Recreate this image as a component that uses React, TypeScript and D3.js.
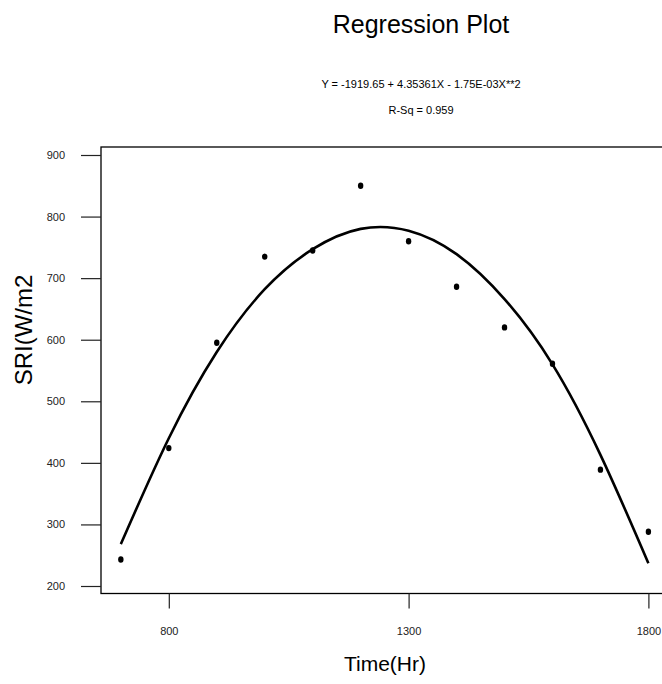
import React, { useEffect, useRef } from "react";
import * as d3 from "d3";

// observed data
const times = [700, 800, 900, 1000, 1100, 1200, 1300, 1400, 1500, 1600, 1700, 1800];
const sri = [243, 424, 595, 735, 745, 850, 760, 686, 620, 561, 389, 288];
// fitted curve at the same times
const fitted = [268, 440, 580, 682, 747, 780, 777, 739, 666, 560, 413, 237];

const xTicks = [800, 1300, 1800];
const yTicks = [200, 300, 400, 500, 600, 700, 800, 900];

const title = "Regression Plot";
const equation = "Y = -1919.65 + 4.35361X - 1.75E-03X**2";
const rsq = "R-Sq = 0.959";

const W = 662;
const H = 684;
const font = "'Liberation Sans', Arial, sans-serif";

function RegressionPlot() {
  const ref = useRef<SVGSVGElement>(null);

  useEffect(() => {
    drawChart();
  }, []);

  function drawChart() {
    const svg = d3.select(ref.current);
    svg.selectAll("*").remove();

    const margin = { top: 147, right: -79, bottom: 90.5, left: 101 };
    const left = margin.left;
    const right = W - margin.right;
    const top = margin.top;
    const bottom = H - margin.bottom;

    const xScale = d3.scaleLinear().domain([800, 1800]).range([168.8, 648.4]);
    const yScale = d3.scaleLinear().domain([200, 900]).range([586, 155]);

    // frame
    svg
      .append("rect")
      .attr("x", left)
      .attr("y", top)
      .attr("width", right - left)
      .attr("height", bottom - top)
      .attr("fill", "none")
      .attr("stroke", "#000")
      .attr("stroke-width", 1.3);

    // y axis ticks outside the frame
    const yAxis = svg
      .append("g")
      .attr("transform", `translate(${left},0)`)
      .call(d3.axisLeft(yScale).tickValues(yTicks).tickSize(20).tickPadding(16));
    yAxis.select(".domain").remove();
    yAxis.selectAll("line").attr("stroke", "#222").attr("stroke-width", 1.2);
    yAxis
      .selectAll("text")
      .attr("font-family", font)
      .attr("font-size", 11)
      .attr("fill", "#222");

    // x axis
    const xAxis = svg
      .append("g")
      .attr("transform", `translate(0,${bottom})`)
      .call(d3.axisBottom(xScale).tickValues(xTicks).tickSize(15).tickPadding(19).tickFormat(d3.format("d")));
    xAxis.select(".domain").remove();
    xAxis.selectAll("line").attr("stroke", "#222").attr("stroke-width", 1.2);
    xAxis
      .selectAll("text")
      .attr("font-family", font)
      .attr("font-size", 11)
      .attr("fill", "#222");

    // fitted curve
    const line = d3
      .line<number>()
      .x((d, i) => xScale(times[i]))
      .y((d) => yScale(d))
      .curve(d3.curveNatural);

    svg
      .append("path")
      .datum(fitted)
      .attr("fill", "none")
      .attr("stroke", "#000")
      .attr("stroke-width", 2.6)
      .attr("d", line);

    // points
    svg
      .append("g")
      .selectAll("ellipse")
      .data(sri)
      .join("ellipse")
      .attr("cx", (d, i) => xScale(times[i]))
      .attr("cy", (d) => yScale(d))
      .attr("rx", 2.7)
      .attr("ry", 3.2)
      .attr("fill", "#000");

    // titles
    svg
      .append("text")
      .attr("x", 421)
      .attr("y", 33)
      .attr("text-anchor", "middle")
      .attr("font-family", font)
      .attr("font-size", 25)
      .text(title);

    svg
      .append("text")
      .attr("x", 421)
      .attr("y", 88)
      .attr("text-anchor", "middle")
      .attr("font-family", font)
      .attr("font-size", 11)
      .text(equation);

    svg
      .append("text")
      .attr("x", 421)
      .attr("y", 114)
      .attr("text-anchor", "middle")
      .attr("font-family", font)
      .attr("font-size", 11)
      .text(rsq);

    svg
      .append("text")
      .attr("x", 385)
      .attr("y", 671)
      .attr("text-anchor", "middle")
      .attr("font-family", font)
      .attr("font-size", 21)
      .text("Time(Hr)");

    svg
      .append("text")
      .attr("transform", `translate(32,330) rotate(-90)`)
      .attr("text-anchor", "middle")
      .attr("font-family", font)
      .attr("font-size", 24)
      .text("SRI(W/m2");
  }

  return (
    <svg
      ref={ref}
      width={W}
      height={H}
      style={{ position: "absolute", left: 0, top: 0, background: "#fff" }}
    />
  );
}

export default function App() {
  return <RegressionPlot />;
}
